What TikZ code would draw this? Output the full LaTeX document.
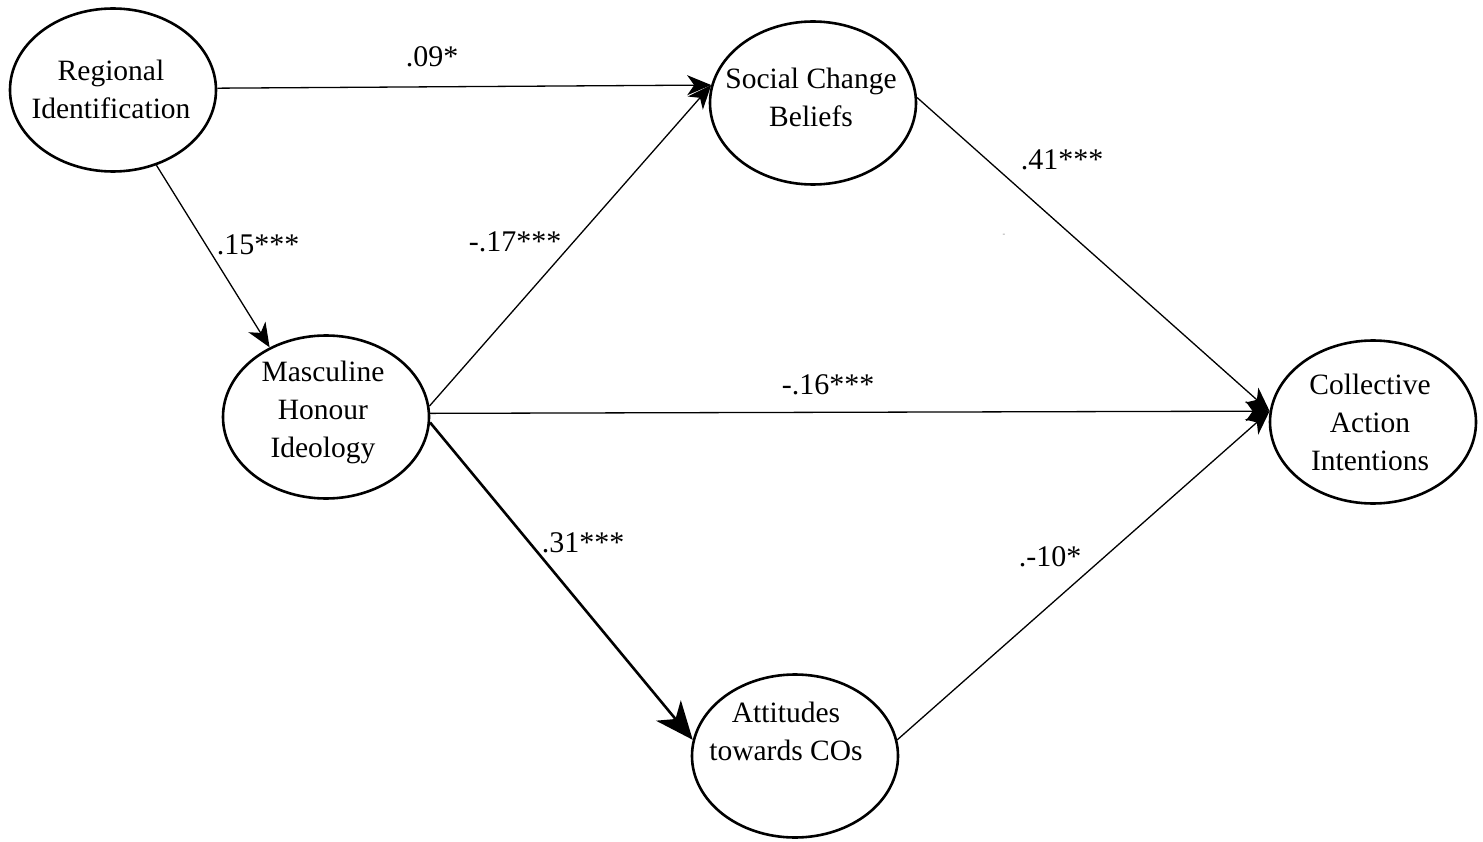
\documentclass[tikz,border=0pt]{standalone}
\usepackage{fontspec}
\setmainfont{Liberation Serif}
\usetikzlibrary{shapes.geometric,arrows.meta}
\begin{document}
\begin{tikzpicture}[x=1pt,y=-1pt,
  latent/.style={draw,ellipse,line width=2.6pt,minimum width=206pt,minimum height=163pt,inner sep=0pt},
  ltext/.style={inner sep=0pt,align=center,font=\fontsize{29.5}{38}\selectfont},
  path/.style={line width=1.3pt,-{Stealth[length=24pt,width=20pt,inset=7pt]}},
  thickpath/.style={line width=2.6pt,-{Stealth[length=38pt,width=32pt,inset=11pt]}},
  coef/.style={inner sep=0pt,font=\fontsize{30}{34}\selectfont}]
\useasboundingbox (0,0) rectangle (1483,842);
\node[latent] (reg) at (113,90) {};
\node[latent] (soc) at (813,103) {};
\node[latent] (masc) at (326,417) {};
\node[latent] (coll) at (1373,422) {};
\node[latent] (att) at (795,756) {};
\node[ltext] (regt) at (111,89) {Regional\\Identification};
\node[ltext] (soct) at (811,97) {Social Change\\Beliefs};
\node[ltext] (masct) at (323,412) {Masculine\\Honour\\Ideology};
\node[ltext] (collt) at (1370,422) {Collective\\Action\\Intentions};
\node[ltext] (attt) at (786,731) {Attitudes\\towards COs};
\draw[path] (reg.1) -- (soc.170);
\draw[path] (reg.-60) -- (masc.129);
\draw[path] (masc.6) -- (soc.170);
\draw[path] (masc.2) -- (coll.174);
\draw[thickpath] (masc.-3) -- (att.171);
\draw[path] (soc.3) -- (coll.174);
\draw[path] (att.9) -- (coll.174);
\node[coef] (c1) at (432,57) {.09*};
\node[coef] (c2) at (258,245) {.15***};
\node[coef] (c3) at (515,242) {-.17***};
\node[coef] (c4) at (1062,160) {.41***};
\node[coef] (c5) at (828,385) {-.16***};
\node[coef] (c6) at (583,543) {.31***};
\node[coef] (c7) at (1050,557) {.-10*};
\node[inner sep=0pt,font=\fontsize{8}{8}\selectfont,text=gray] (dash) at (1004,235) {-};
\end{tikzpicture}
\end{document}
